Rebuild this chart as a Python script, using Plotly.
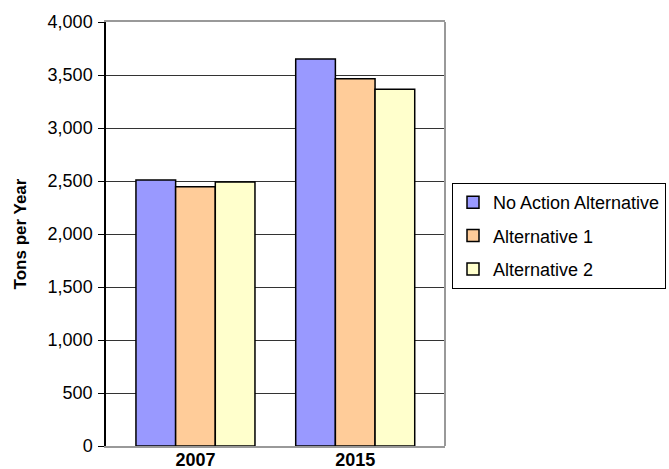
import plotly.graph_objects as go

years = ["2007", "2015"]
series_names = ["No Action Alternative", "Alternative 1", "Alternative 2"]
no_action = [2510, 3650]
alt_1 = [2445, 3465]
alt_2 = [2490, 3365]
colors = ["#9999FF", "#FFCC99", "#FFFFCC"]

y_ticks = [0, 500, 1000, 1500, 2000, 2500, 3000, 3500, 4000]
y_tick_text = ["0", "500", "1,000", "1,500", "2,000", "2,500", "3,000", "3,500", "4,000"]

FONT = "Liberation Sans, Arial, sans-serif"

fig = go.Figure()
for i, (name, vals) in enumerate(zip(series_names, [no_action, alt_1, alt_2])):
    fig.add_trace(go.Bar(
        x=years, y=vals, name=name, legendgroup=f"s{i}",
        marker=dict(color=colors[i], line=dict(color="#000000", width=1.5)),
    ))

fig.update_layout(
    width=669, height=469,
    margin=dict(l=106, r=224, t=22, b=23, autoexpand=False),
    paper_bgcolor="#FFFFFF", plot_bgcolor="#FFFFFF",
    barmode="group", bargap=0.255, bargroupgap=0,
    font=dict(family=FONT, color="#000000", size=18),
    showlegend=True,
    legend=dict(
        xref="container", yref="container",
        x=452 / 669, y=1 - 183 / 469, xanchor="left", yanchor="top",
        bgcolor="#FFFFFF", bordercolor="#000000", borderwidth=1,
        font=dict(family=FONT, size=18, color="#000000"),
        tracegroupgap=7,
    ),
    xaxis=dict(
        type="category", range=[-0.56, 1.562],
        showline=True, linecolor="#999999", linewidth=2, mirror=True,
        ticks="", showgrid=False, ticklabelstandoff=-4,
        tickfont=dict(family=FONT, size=18, color="#000000", weight="bold"),
    ),
    yaxis=dict(
        range=[0, 4000], tickvals=y_ticks, ticktext=y_tick_text,
        showgrid=True, gridcolor="#333333", gridwidth=1,
        showline=True, linecolor="#000000", linewidth=1.5,
        ticks="outside", ticklen=6, tickcolor="#000000",
        ticklabelstandoff=2,
        tickfont=dict(family=FONT, size=18, color="#000000"),
        title=dict(text="Tons per Year",
                   font=dict(family=FONT, size=17, color="#000000", weight="bold"),
                   standoff=17),
        zeroline=False,
    ),
)

# right edge of the plotting area
fig.add_shape(type="line", xref="x domain", yref="y domain",
              x0=1, x1=1, y0=0, y1=1, line=dict(color="#999999", width=2))

fig.write_html("out.html")
